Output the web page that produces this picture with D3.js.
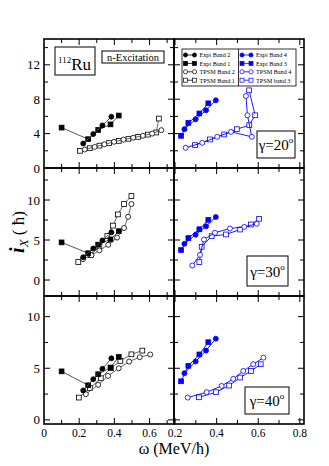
<!DOCTYPE html>
<html>
<head>
<meta charset="utf-8">
<script src="https://cdn.jsdelivr.net/npm/d3@7"></script>
<style>
  body { margin: 0; background: #fff; }
  svg text { font-family: "Liberation Serif", "DejaVu Serif", serif; }
</style>
</head>
<body>
<svg id="chart" width="329" height="466"></svg>
<script>
// experimental bands (same in every row), [omega, ix]
const exptBand1 = [[0.100, 4.70], [0.251, 3.35], [0.308, 4.42], [0.378, 5.07], [0.425, 6.10]];
const exptBand2 = [[0.223, 2.85], [0.280, 3.94], [0.332, 4.95], [0.383, 5.96]];
const exptBand3 = [[0.229, 3.74], [0.264, 5.24], [0.317, 6.34], [0.360, 7.52]];
const exptBand4 = [[0.245, 4.52], [0.299, 5.66], [0.349, 6.71], [0.396, 7.87]];

// TPSM bands, one set per gamma
const tpsm1G20 = [[0.204, 2.0], [0.26, 2.3], [0.315, 2.6], [0.37, 2.9], [0.425, 3.15], [0.48, 3.4], [0.535, 3.62], [0.59, 3.88], [0.638, 4.13], [0.653, 5.75]];
const tpsm2G20 = [[0.232, 2.15], [0.288, 2.45], [0.343, 2.75], [0.398, 3.05], [0.452, 3.3], [0.507, 3.52], [0.562, 3.75], [0.615, 4.0], [0.667, 4.4]];
const tpsm3G20 = [[0.296, 2.66], [0.368, 3.32], [0.436, 3.9], [0.497, 4.51], [0.557, 4.98], [0.585, 6.13], [0.556, 9.03]];
const tpsm4G20 = [[0.251, 2.35], [0.331, 2.93], [0.403, 3.63], [0.469, 4.2], [0.569, 3.63], [0.548, 6.13], [0.541, 8.37]];

const tpsm1G30 = [[0.195, 2.25], [0.265, 3.1], [0.315, 4.2], [0.36, 5.5], [0.392, 6.8], [0.42, 8.2], [0.455, 9.5], [0.497, 10.5]];
const tpsm2G30 = [[0.222, 2.6], [0.27, 3.1], [0.315, 3.7], [0.365, 4.4], [0.415, 5.3], [0.455, 6.5], [0.478, 7.9], [0.497, 9.5]];
const tpsm3G30 = [[0.317, 2.23], [0.328, 4.15], [0.376, 5.48], [0.445, 5.69], [0.513, 6.31], [0.565, 6.94], [0.604, 7.65]];
const tpsm4G30 = [[0.283, 1.81], [0.32, 3.15], [0.339, 5.06], [0.392, 5.9], [0.464, 6.44], [0.533, 6.64], [0.593, 7.02]];

const tpsm1G40 = [[0.198, 2.16], [0.261, 3.07], [0.323, 4.03], [0.38, 5.0], [0.434, 5.71], [0.497, 6.35], [0.559, 6.71]];
const tpsm2G40 = [[0.238, 2.49], [0.308, 3.39], [0.364, 4.26], [0.425, 5.0], [0.484, 5.65], [0.544, 6.07], [0.604, 6.33]];
const tpsm3G40 = [[0.315, 2.19], [0.397, 2.68], [0.46, 3.32], [0.513, 4.1], [0.565, 4.74], [0.612, 5.39]];
const tpsm4G40 = [[0.261, 2.16], [0.352, 2.68], [0.424, 3.29], [0.48, 3.97], [0.528, 4.74], [0.576, 5.39], [0.625, 6.03]];

const gammas = ['20', '30', '40'];
const yTickLabels = [[0, 4, 8, 12], [0, 5, 10], [0, 5, 10]];
const xTickLabels = [[0, 0.2, 0.4, 0.6], [0.2, 0.4, 0.6, 0.8]];

const blue = '#0000ff';
const svg = d3.select('#chart');

const cols = [
    {x0: 44, x1: 174, domain: [0, 0.739]},
    {x0: 174, x1: 304, domain: [0.195, 0.82]}
];
const rows = [
    {y0: 39, y1: 168, domain: [0, 15], major: 4, minor: 2},
    {y0: 168, y1: 296, domain: [-2, 14], major: 5, minor: 2.5},
    {y0: 296, y1: 424, domain: [-0.4, 12], major: 5, minor: 2.5}
];
const tpsmLeft = [[tpsm1G20, tpsm2G20], [tpsm1G30, tpsm2G30], [tpsm1G40, tpsm2G40]];
const tpsmRight = [[tpsm3G20, tpsm4G20], [tpsm3G30, tpsm4G30], [tpsm3G40, tpsm4G40]];

function range(a, b, step) {
    const out = [];
    for (let v = Math.ceil(a / step - 1e-6) * step; v <= b + 1e-6; v += step) out.push(+v.toFixed(4));
    return out;
}

function drawSeries(g, x, y, data, shape, filled, color, lineColor) {
    const line = d3.line().x(d => x(d[0])).y(d => y(d[1]));
    g.append('path').datum(data)
        .attr('d', line)
        .attr('fill', 'none')
        .attr('stroke', lineColor)
        .attr('stroke-width', 0.9);
    if (shape === 'circle') {
        g.selectAll(null).data(data).enter().append('circle')
            .attr('cx', d => x(d[0])).attr('cy', d => y(d[1])).attr('r', 2.5)
            .attr('fill', filled ? color : '#fff')
            .attr('stroke', color).attr('stroke-width', 0.8);
    } else {
        g.selectAll(null).data(data).enter().append('rect')
            .attr('x', d => x(d[0]) - 2.4).attr('y', d => y(d[1]) - 2.4)
            .attr('width', 4.8).attr('height', 4.8)
            .attr('fill', filled ? color : '#fff')
            .attr('stroke', color).attr('stroke-width', 0.8);
    }
}

rows.forEach((row, ri) => {
    const y = d3.scaleLinear().domain(row.domain).range([row.y1, row.y0]);
    cols.forEach((col, ci) => {
        const x = d3.scaleLinear().domain(col.domain).range([col.x0, col.x1]);
        const g = svg.append('g');

        // ticks on all four sides, pointing inwards
        const ax = g.append('g').attr('stroke', '#000').attr('stroke-width', 1);
        range(col.domain[0], col.domain[1], 0.1).forEach(v => {
            const len = Math.abs(v / 0.2 - Math.round(v / 0.2)) < 1e-6 ? 6 : 4;
            const px = x(v);
            if (px < col.x0 + 1 || px > col.x1 - 1) return;
            ax.append('line').attr('x1', px).attr('x2', px).attr('y1', row.y1).attr('y2', row.y1 - len);
            ax.append('line').attr('x1', px).attr('x2', px).attr('y1', row.y0).attr('y2', row.y0 + len);
        });
        range(row.domain[0], row.domain[1], row.minor).forEach(v => {
            const len = Math.abs(v / row.major - Math.round(v / row.major)) < 1e-6 ? 6 : 4;
            const py = y(v);
            if (py < row.y0 + 1 || py > row.y1 - 1) return;
            ax.append('line').attr('y1', py).attr('y2', py).attr('x1', col.x0).attr('x2', col.x0 + len);
            ax.append('line').attr('y1', py).attr('y2', py).attr('x1', col.x1).attr('x2', col.x1 - len);
        });

        // data
        if (ci === 0) {
            drawSeries(g, x, y, tpsmLeft[ri][0], 'rect', false, '#000', '#555');
            drawSeries(g, x, y, tpsmLeft[ri][1], 'circle', false, '#000', '#555');
            drawSeries(g, x, y, exptBand1, 'rect', true, '#000', '#444');
            drawSeries(g, x, y, exptBand2, 'circle', true, '#000', '#444');
        } else {
            drawSeries(g, x, y, tpsmRight[ri][0], 'rect', false, blue, blue);
            drawSeries(g, x, y, tpsmRight[ri][1], 'circle', false, blue, blue);
            drawSeries(g, x, y, exptBand3, 'rect', true, blue, blue);
            drawSeries(g, x, y, exptBand4, 'circle', true, blue, blue);
        }

        // frame
        g.append('rect')
            .attr('x', col.x0).attr('y', row.y0)
            .attr('width', col.x1 - col.x0).attr('height', row.y1 - row.y0)
            .attr('fill', 'none').attr('stroke', '#000').attr('stroke-width', 1.6);

        // y tick labels on the left column
        if (ci === 0) {
            g.selectAll(null).data(yTickLabels[ri]).enter().append('text')
                .attr('x', col.x0 - 4).attr('y', d => y(d) + 4.5)
                .attr('text-anchor', 'end').attr('font-size', 13)
                .text(d => d);
        }
        // x tick labels on the bottom row
        if (ri === 2) {
            g.selectAll(null).data(xTickLabels[ci]).enter().append('text')
                .attr('x', d => x(d)).attr('y', row.y1 + 13)
                .attr('text-anchor', 'middle').attr('font-size', 11.5)
                .text(d => d);
        }

        // gamma label box
        if (ci === 1) {
            const bx = [257, 247, 245][ri], by = [131, 256, 387][ri];
            const bw = [38, 41, 44][ri], bh = [27, 30, 27][ri];
            g.append('rect').attr('x', bx).attr('y', by).attr('width', bw).attr('height', bh)
                .attr('fill', '#fff').attr('stroke', '#000').attr('stroke-width', 1);
            const t = g.append('text').attr('x', bx + bw / 2).attr('y', by + bh / 2 + 5.5)
                .attr('text-anchor', 'middle').attr('font-size', 15);
            t.append('tspan').text('γ=' + gammas[ri]);
            t.append('tspan').attr('dy', -7).attr('font-size', 9).text('o');
        }
    });
});

// 112Ru and n-Excitation boxes
svg.append('rect').attr('x', 55).attr('y', 47).attr('width', 40).attr('height', 28)
    .attr('fill', '#fff').attr('stroke', '#000').attr('stroke-width', 1);
const ru = svg.append('text').attr('x', 58).attr('y', 70).attr('font-size', 17);
ru.append('tspan').attr('font-size', 9).attr('dy', -7).text('112');
ru.append('tspan').attr('dy', 7).text('Ru');
svg.append('rect').attr('x', 102).attr('y', 51).attr('width', 62).attr('height', 12)
    .attr('fill', '#fff').attr('stroke', '#000').attr('stroke-width', 1);
svg.append('text').attr('x', 133).attr('y', 60.5).attr('text-anchor', 'middle')
    .attr('font-size', 10.5).text('n-Excitation');

// legend
const legendLeft = [
    {label: 'Expt Band 2', shape: 'circle', filled: true, color: '#000'},
    {label: 'Expt Band 1', shape: 'rect', filled: true, color: '#000'},
    {label: 'TPSM Band 2', shape: 'circle', filled: false, color: '#000'},
    {label: 'TPSM Band 1', shape: 'rect', filled: false, color: '#000'}
];
const legendRight = [
    {label: 'Expt Band 4', shape: 'circle', filled: true, color: blue},
    {label: 'Expt Band 3', shape: 'rect', filled: true, color: blue},
    {label: 'TPSM Band 4', shape: 'circle', filled: false, color: blue},
    {label: 'TPSM band 3', shape: 'rect', filled: false, color: blue}
];
const lg = svg.append('g');
lg.append('rect').attr('x', 182).attr('y', 49).attr('width', 114).attr('height', 37)
    .attr('fill', '#fff').attr('stroke', '#000').attr('stroke-width', 0.8);
lg.append('line').attr('x1', 238.5).attr('x2', 238.5).attr('y1', 49).attr('y2', 86)
    .attr('stroke', '#000').attr('stroke-width', 0.8);
[[legendLeft, 185.5], [legendRight, 242]].forEach(([items, lx]) => {
    items.forEach((it, i) => {
        const ly = 55 + i * 8.4;
        lg.append('line').attr('x1', lx).attr('x2', lx + 9).attr('y1', ly).attr('y2', ly)
            .attr('stroke', it.color).attr('stroke-width', 0.8);
        [lx, lx + 9].forEach(mx => {
            if (it.shape === 'circle') {
                lg.append('circle').attr('cx', mx).attr('cy', ly).attr('r', 2.1)
                    .attr('fill', it.filled ? it.color : '#fff').attr('stroke', it.color).attr('stroke-width', 0.7);
            } else {
                lg.append('rect').attr('x', mx - 2).attr('y', ly - 2).attr('width', 4).attr('height', 4)
                    .attr('fill', it.filled ? it.color : '#fff').attr('stroke', it.color).attr('stroke-width', 0.7);
            }
        });
        lg.append('text').attr('x', lx + 14).attr('y', ly + 2.3).attr('font-size', 6.2).text(it.label);
    });
});

// axis titles
const yl = svg.append('text').attr('transform', 'translate(24,232) rotate(-90)')
    .attr('text-anchor', 'middle').attr('font-size', 17);
yl.append('tspan').attr('font-style', 'italic').attr('font-weight', 'bold').attr('font-size', 20).text('i');
yl.append('tspan').attr('font-style', 'italic').attr('font-size', 13).attr('dy', 4).text('X');
yl.append('tspan').attr('dy', -4).text(' ( ħ)');

svg.append('text').attr('x', 174).attr('y', 454).attr('text-anchor', 'middle')
    .attr('font-size', 16).text('ω (MeV/ħ)');
</script>
</body>
</html>
